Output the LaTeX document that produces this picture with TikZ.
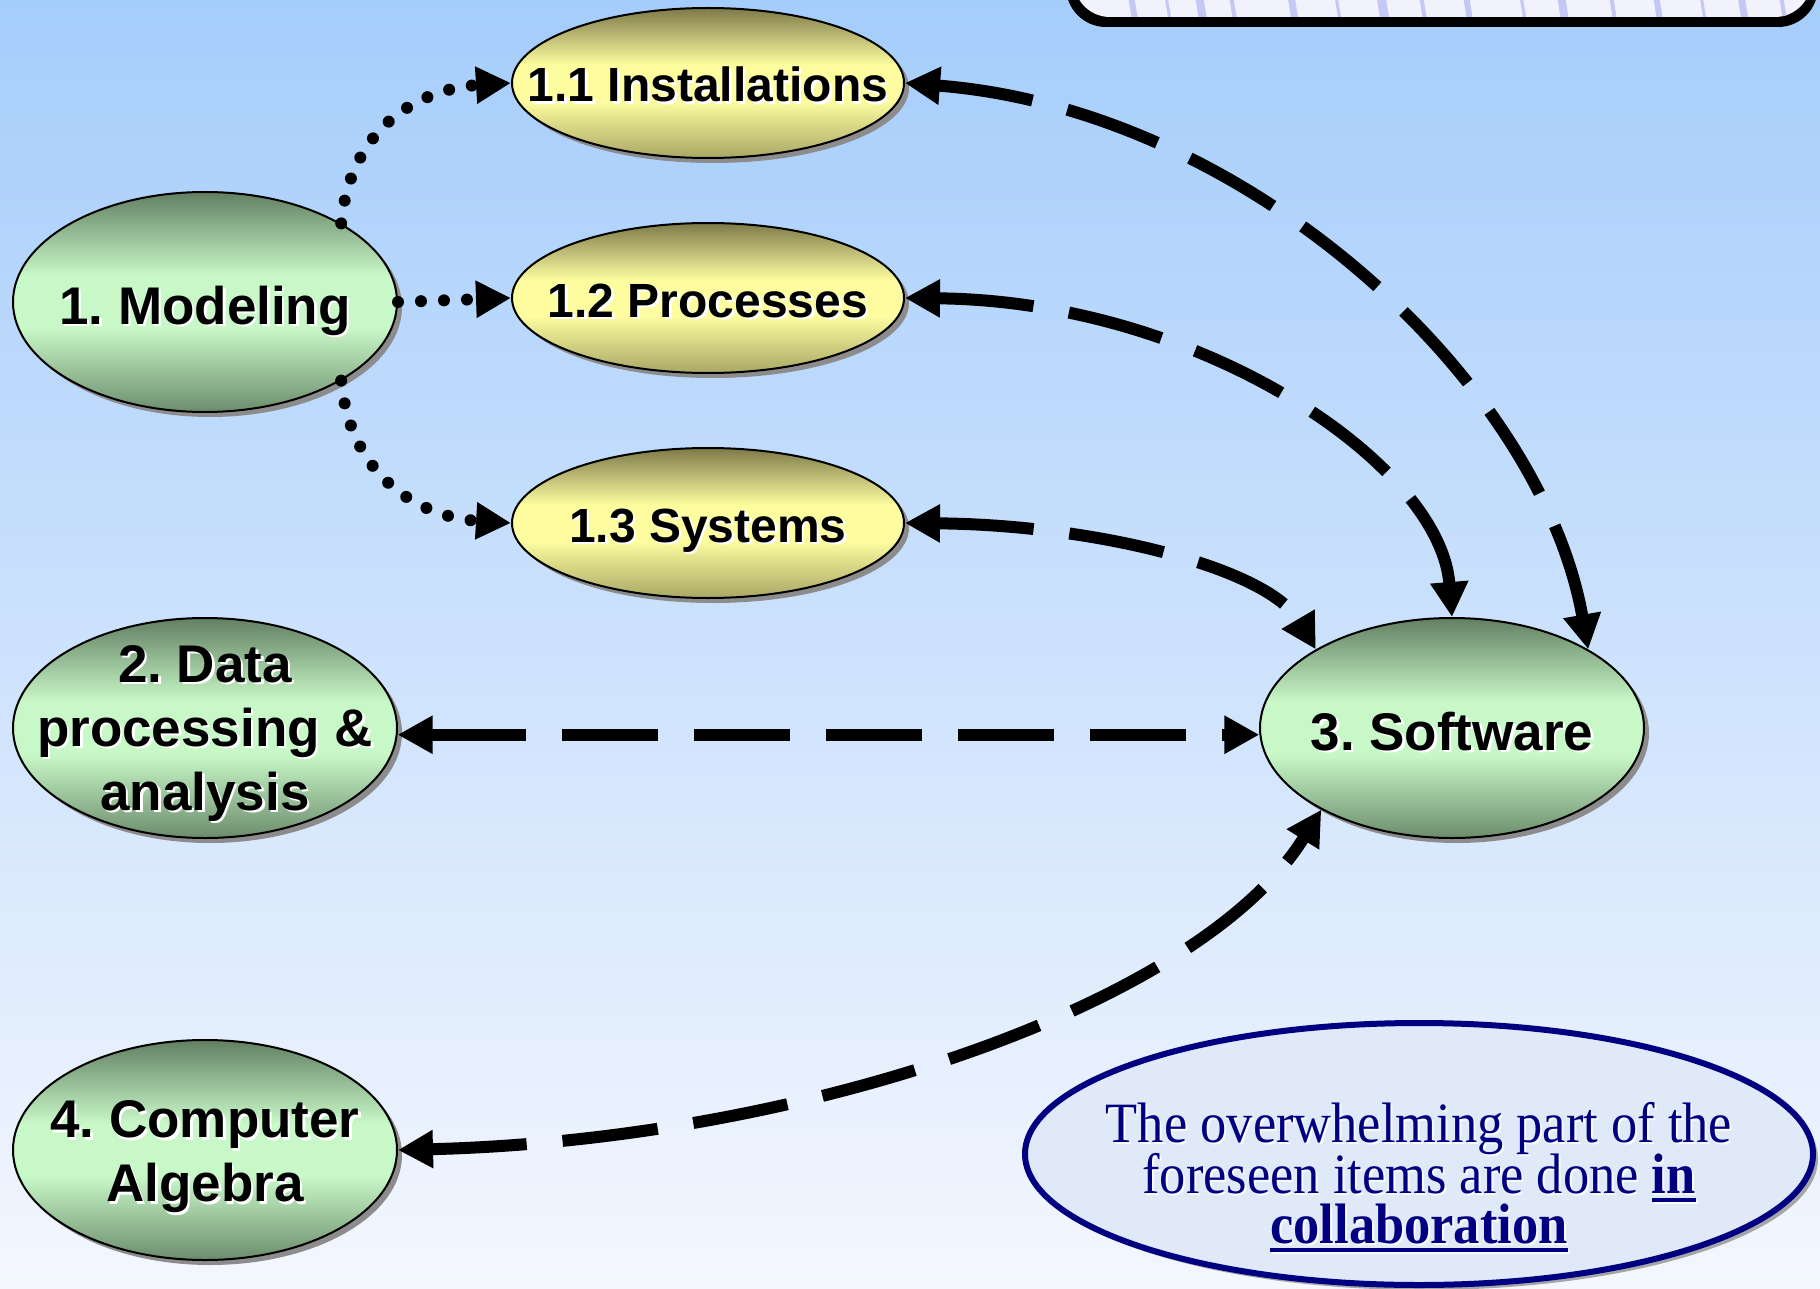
\documentclass[tikz,border=0pt]{standalone}
\usepackage{fontspec}
\usetikzlibrary{shapes.geometric,arrows.meta,shadows}
\newfontfamily\lblfont{Liberation Sans}
\newfontfamily\notefont[FakeStretch=0.92]{Liberation Serif}
\frenchspacing

\definecolor{bgA}{HTML}{A5CDFB}
\definecolor{bgB}{HTML}{F4F7FE}
\definecolor{gtop}{HTML}{627F62}
\definecolor{gmid}{HTML}{C8F8C8}
\definecolor{gbot}{HTML}{6C8C6C}
\definecolor{ytop}{HTML}{7E7A4A}
\definecolor{ymid}{HTML}{FDFDA0}
\definecolor{ybot}{HTML}{A9A765}
\definecolor{navy}{HTML}{000080}
\definecolor{notefill}{HTML}{DFE9F7}
\definecolor{boxfill}{HTML}{F2F2FD}
\definecolor{streak}{HTML}{C4C8F4}

\pgfdeclareverticalshading{greenfill}{100bp}{color(0bp)=(gbot); color(25bp)=(gbot);
  color(44bp)=(gmid); color(56bp)=(gmid); color(75bp)=(gtop); color(100bp)=(gtop)}
\pgfdeclareverticalshading{yellowfill}{100bp}{color(0bp)=(ybot); color(25bp)=(ybot);
  color(44bp)=(ymid); color(56bp)=(ymid); color(75bp)=(ytop); color(100bp)=(ytop)}

% label with a light offset copy behind it
\newcommand\lbl[4]{%
  \node[#1, text=white, xshift=2.5pt, yshift=-2.5pt] (#2-s) at (#3) {#4};
  \node[#1] (#2-t) at (#3) {#4};}
% bold word with a thick underline
\newcommand\ulword[1]{\setbox0=\hbox{\bfseries #1}\rlap{\vrule width\wd0 height -5pt depth 9pt}\box0}

\tikzset{
  ellbase/.style={ellipse, draw=black, line width=2pt, shade, inner sep=0pt,
    drop shadow={shadow xshift=5pt, shadow yshift=-5pt, fill=black!45, opacity=1}},
  mainell/.style={ellbase, shading=greenfill, minimum width=384pt, minimum height=220pt},
  subell/.style={ellbase, shading=yellowfill, minimum width=392pt, minimum height=150pt},
  noteell/.style={ellipse, draw=navy, line width=6pt, fill=notefill, inner sep=0pt,
    minimum width=788pt, minimum height=262pt,
    drop shadow={shadow xshift=5pt, shadow yshift=-5pt, fill=black!35, opacity=1}},
  mainlbl/.style={font=\lblfont\bfseries\fontsize{53}{64}\selectfont, align=center, inner sep=0pt},
  sublbl/.style={font=\lblfont\bfseries\fontsize{48}{58}\selectfont, inner sep=0pt},
  notelbl/.style={font=\notefont\fontsize{57}{51}\selectfont, text=navy, inner sep=0pt,
    text height=36pt, text depth=10pt},
  dotline/.style={line width=12pt, line cap=round, dash pattern=on 0pt off 23pt,
    -{Triangle[length=35pt,width=35pt]}},
  dashline/.style={line width=12pt, dash pattern=on 96pt off 36pt,
    {Triangle[length=35pt,width=36pt]}-{Triangle[length=35pt,width=36pt]}},
}

\begin{document}
\begin{tikzpicture}[x=1pt,y=-1pt]
\useasboundingbox (0,0) rectangle (1820,1289);
% background
\shade[shading angle=45, top color=bgA, bottom color=bgB] (0,0) rectangle (1820,1289);

% panel at the top right, cut by the edge
\fill[black, rounded corners=40pt] (1066,-80) rectangle (1818,27);
\fill[boxfill, rounded corners=36pt] (1074,-80) rectangle (1811,17);
\begin{scope}
  \clip[rounded corners=36pt] (1074,-80) rectangle (1811,17);
  \foreach \x/\w in {1130/6,1165/3,1198/8,1230/4,1290/7,1335/3,1380/9,1420/4,1465/6,
                     1520/3,1560/8,1610/4,1655/6,1700/3,1740/7,1780/4}
    \draw[streak, line width=\w pt] (\x,-10) .. controls (\x+2,5) .. (\x+5,20);
\end{scope}

% ellipses
\node[mainell] (model) at (205,302) {};
\node[mainell] (data) at (205,728) {};
\node[mainell] (alg) at (205,1150) {};
\node[mainell] (soft) at (1452,728) {};
\node[subell] (inst) at (708,83) {};
\node[subell] (proc) at (708,298) {};
\node[subell] (sys) at (708,523) {};
\node[noteell] (note) at (1419,1154) {};

% labels
\lbl{mainlbl,anchor=base}{model}{[shift={(0,22)}]model.center}{1. Modeling}
\lbl{mainlbl}{data}{[shift={(0,5)}]data.center}{2. Data\\processing \&\\analysis}
\lbl{mainlbl}{alg}{[shift={(0,7)}]alg.center}{4. Computer\\Algebra}
\lbl{mainlbl,anchor=base}{soft}{[shift={(0,22)}]soft.center}{3. Software}
\lbl{sublbl,anchor=base}{inst}{[shift={(0,19)}]inst.center}{1.1 Installations}
\lbl{sublbl,anchor=base}{proc}{[shift={(0,19)}]proc.center}{1.2 Processes}
\lbl{sublbl,anchor=base}{sys}{[shift={(0,19)}]sys.center}{1.3 Systems}

% note text
\foreach \n/\dy/\t in {a/-12/{The overwhelming part of the},
                       b/39/{foreseen items are done \ulword{in}},
                       c/89/{\ulword{collaboration}}}{
  \node[notelbl, anchor=base, text=white, opacity=0.85, xshift=2pt, yshift=-2pt]
    (note-\n-s) at ([shift={(0,\dy)}]note.center) {\t};
  \node[notelbl, anchor=base] (note-\n) at ([shift={(0,\dy)}]note.center) {\t};
}

% dotted links from modeling
\draw[dotline] (model.30) .. controls +(10,-104) and +(-82,5) .. (inst.west);
\draw[dotline] (model.east) -- (proc.west);
\draw[dotline] (model.-30) .. controls +(10,104) and +(-82,-5) .. (sys.west);

% dashed links to software
\draw[dashline] (inst.east) .. controls +(346,27) and +(-47,-265) .. (soft.30);
\draw[dashline] (proc.east) .. controls +(296,3) and +(-12,-153) .. (soft.90);
\draw[dashline] (sys.east) .. controls +(196,2) and +(-47,-80) .. (soft.150);
\draw[dashline] (data.-2) -- (soft.182);
\draw[dashline] (alg.east) .. controls +(403,-10) and +(-122,196) .. (soft.212);
\end{tikzpicture}
\end{document}
